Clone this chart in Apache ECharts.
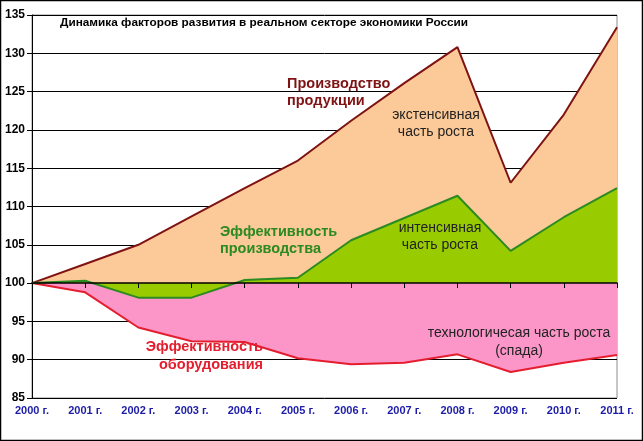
<!DOCTYPE html>
<html><head><meta charset="utf-8">
<script src="https://cdn.jsdelivr.net/npm/echarts@6/dist/echarts.min.js"></script>
<style>html,body{margin:0;padding:0;background:#fff}#c{width:643px;height:441px}</style>
</head><body><div id="c"></div>
<script>
const categories = ['2000 г.','2001 г.','2002 г.','2003 г.','2004 г.','2005 г.','2006 г.','2007 г.','2008 г.','2009 г.','2010 г.','2011 г.'];
const production = [100, 102.5, 105, 108.7, 112.4, 116, 121.2, 126.1, 130.8, 113.1, 122, 133.4];
const prodEfficiency = [100, 100.3, 98.1, 98.1, 100.4, 100.7, 105.6, 108.5, 111.4, 104.2, 108.6, 112.4];
const equipEfficiency = [100, 98.8, 94.2, 92.4, 92.3, 90.2, 89.4, 89.6, 90.7, 88.4, 89.6, 90.6];
const yTicks = [85, 90, 95, 100, 105, 110, 115, 120, 125, 130, 135];

const chart = echarts.init(document.getElementById('c'), null, {renderer:'canvas'});
const font = 'Arial, "Liberation Sans", sans-serif';
chart.setOption({
  animation:false,
  backgroundColor:'#fff',
  grid:{left:32,right:26,top:15,bottom:43,show:true,borderColor:'#8c8c8c',borderWidth:1,backgroundColor:'transparent'},
  xAxis:[{
    type:'category',data:categories,boundaryGap:false,
    axisLine:{show:false},axisTick:{show:false},
    axisLabel:{color:'#1c1ca8',fontWeight:'bold',fontSize:11,fontFamily:font,margin:7,interval:0},
    splitLine:{show:false}
  },{
    type:'category',data:categories,boundaryGap:false,position:'bottom',offset:-115,
    axisLine:{show:true,lineStyle:{color:'#000',width:1.5}},
    axisTick:{show:true,length:5,lineStyle:{color:'#000'}},
    axisLabel:{show:false},splitLine:{show:false},z:10
  }],
  yAxis:{
    type:'value',min:yTicks[0],max:yTicks[yTicks.length-1],interval:5,
    axisLine:{show:true,lineStyle:{color:'#000',width:1}},
    axisTick:{show:true,length:5,lineStyle:{color:'#000'}},
    axisLabel:{color:'#000',fontSize:12,fontWeight:'bold',fontFamily:font,margin:7},
    splitLine:{show:true,lineStyle:{color:'#000',width:1}}
  },
  series:[
    {name:'prod',type:'line',data:production,symbol:'none',z:2,
     lineStyle:{color:'#7f1212',width:2},areaStyle:{color:'#fcc998',opacity:1,origin:100}},
    {name:'equip',type:'line',data:equipEfficiency,symbol:'none',z:3,
     lineStyle:{color:'#e41e2e',width:2},areaStyle:{color:'#fc96c8',opacity:1,origin:100}},
    {name:'eff',type:'line',data:prodEfficiency,symbol:'none',z:4,
     lineStyle:{color:'#2b8a22',width:2},areaStyle:{color:'#99cc00',opacity:1,origin:100}}
  ],
  graphic:[
    {type:'rect',z:100,shape:{x:0.5,y:0.5,width:642,height:440},style:{fill:'none',stroke:'#000',lineWidth:1.5},silent:true},
    {type:'text',z:100,x:60,y:17,style:{text:'Динамика факторов развития в реальном секторе экономики России',font:'bold 11.8px '+font,fill:'#000',verticalAlign:'top'}},
    {type:'text',z:100,x:287,y:75.5,style:{text:'Производство\nпродукции',font:'bold 14.5px '+font,fill:'#7f1212',align:'left',verticalAlign:'top',lineHeight:17}},
    {type:'text',z:100,x:436,y:106.5,style:{text:'экстенсивная\nчасть роста',font:'14px '+font,fill:'#222',align:'center',verticalAlign:'top',lineHeight:17}},
    {type:'text',z:100,x:220,y:223.5,style:{text:'Эффективность\nпроизводства',font:'bold 14.5px '+font,fill:'#2b8a22',align:'left',verticalAlign:'top',lineHeight:17}},
    {type:'text',z:100,x:440,y:219.5,style:{text:'интенсивная\nчасть роста',font:'14px '+font,fill:'#222',align:'center',verticalAlign:'top',lineHeight:17}},
    {type:'text',z:100,x:263,y:338,style:{text:'Эффективность\nоборудования',font:'bold 14.5px '+font,fill:'#e41e2e',align:'right',verticalAlign:'top',lineHeight:18}},
    {type:'text',z:100,x:519,y:324,style:{text:'технологичесая часть роста\n(спада)',font:'14px '+font,fill:'#222',align:'center',verticalAlign:'top',lineHeight:18}}
  ]
});
</script></body></html>
